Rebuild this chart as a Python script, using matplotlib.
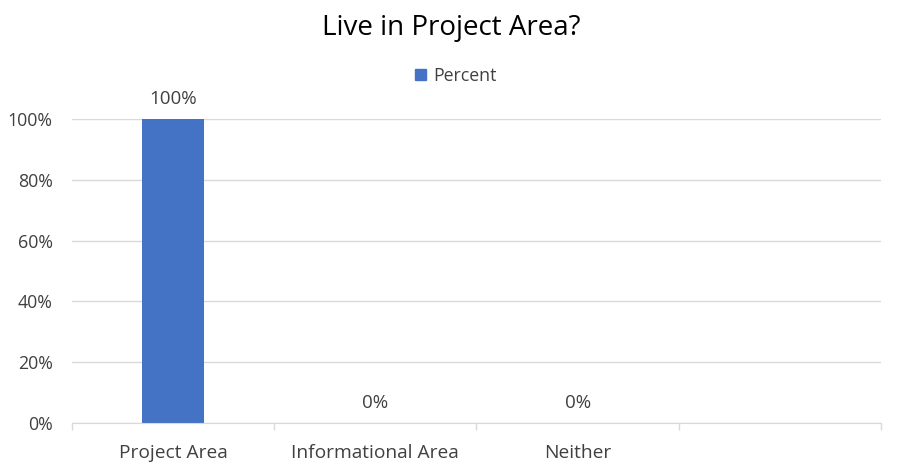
import matplotlib.pyplot as plt
from matplotlib.patches import Patch

plt.rcParams['font.family'] = ['Open Sans', 'DejaVu Sans']

# Data
categories = ['Project Area', 'Informational Area', 'Neither']
percent = [100, 0, 0]
n_slots = 4  # the chart keeps one empty category slot on the right

bar_color = '#4472C4'
text_color = '#404040'
grid_color = '#D9D9D9'

fig = plt.figure(figsize=(9.03, 4.74), dpi=100)
ax = fig.add_axes([0.0797, 0.1076, 0.8959, 0.6414])

x = list(range(len(categories)))
ax.bar(x, percent, width=0.31, color=bar_color, zorder=3)

for xi, v in zip(x, percent):
    ax.text(xi, v + 3.5, f'{v}%', ha='center', va='bottom', fontsize=13.5, color=text_color)

ax.set_xlim(-0.5, n_slots - 0.5)
ax.set_ylim(0, 100)
ax.set_yticks([0, 20, 40, 60, 80, 100])
ax.set_yticklabels([f'{t}%' for t in [0, 20, 40, 60, 80, 100]])
ax.yaxis.grid(True, color=grid_color, linewidth=1, zorder=0)
ax.tick_params(axis='y', length=0, labelsize=12.8, labelcolor=text_color, pad=14)

ax.set_xticks(x)
ax.set_xticklabels(categories)
ax.set_xticks([i - 0.5 for i in range(n_slots + 1)], minor=True)
ax.tick_params(axis='x', which='major', length=0, labelsize=13.8, labelcolor=text_color, pad=15)
ax.tick_params(axis='x', which='minor', length=5, color=grid_color, width=1)

for s in ['top', 'right', 'left']:
    ax.spines[s].set_visible(False)
ax.spines['bottom'].set_color(grid_color)
ax.spines['bottom'].set_zorder(4)

fig.text(0.5, 0.94, 'Live in Project Area?', ha='center', va='center', fontsize=20, color='#000000')

handle = Patch(color=bar_color, label='Percent')
fig.legend(handles=[handle], loc='center', bbox_to_anchor=(0.505, 0.84), frameon=False,
           fontsize=12.8, handlelength=0.6, handleheight=0.6, handletextpad=0.4,
           labelcolor=text_color)

fig.savefig('out.png', dpi=100)
